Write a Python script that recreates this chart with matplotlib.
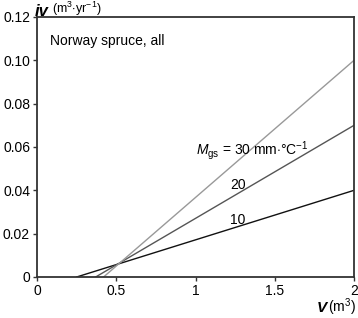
import numpy as np
import matplotlib.pyplot as plt

plt.rcParams['font.family'] = ['Liberation Sans', 'DejaVu Sans']
plt.rcParams['mathtext.fontset'] = 'custom'
plt.rcParams['mathtext.rm'] = 'Liberation Sans'
plt.rcParams['mathtext.it'] = 'Liberation Sans:italic'
plt.rcParams['mathtext.bf'] = 'Liberation Sans:bold'

# --- data ---
mgs_levels = [10, 20, 30]
v_start = [0.25, 0.37, 0.42]       # V where iv reaches 0
v_end = [2.0, 2.0, 2.0]
iv_end = [0.04, 0.07, 0.10]
line_colors = ['#111111', '#555555', '#999999']
line_labels = ['10', '20', r'$M_{\rm gs}$ = 30 mm$\cdot$°C$^{-1}$']
label_pos = [(1.218, 0.0245), (1.218, 0.0406), (1.0, 0.0563)]

xticks = [0, 0.5, 1, 1.5, 2]
xticklabels = ['0', '0.5', '1', '1.5', '2']
yticks = [0, 0.02, 0.04, 0.06, 0.08, 0.10, 0.12]
yticklabels = ['0', '0.02', '0.04', '0.06', '0.08', '0.10', '0.12']

W, H = 358, 318
fig = plt.figure(figsize=(W / 100, H / 100), dpi=100)
ax = fig.add_axes([37 / W, 41 / H, 317 / W, 260 / H])

for x0, x1, y1, c in zip(v_start, v_end, iv_end, line_colors):
    ax.plot([x0, x1], [0, y1], color=c, lw=1.0)

for txt, (x, y) in zip(line_labels, label_pos):
    ax.text(x, y, txt, fontsize=10, ha='left', va='baseline')

ax.text(0.082, 0.107, 'Norway spruce, all', fontsize=10, va='baseline')

ax.set_xlim(0, 2)
ax.set_ylim(0, 0.12)
ax.set_xticks(xticks)
ax.set_xticklabels(xticklabels, fontsize=10)
ax.set_yticks(yticks)
ax.set_yticklabels(yticklabels, fontsize=10)
ax.tick_params(direction='out', length=3, width=1, color='#333333', pad=2)
for s in ax.spines.values():
    s.set_color('#333333')
    s.set_linewidth(1.3)

# axis titles sit at the corners, placed in pixels
def px(x, y):
    return x / W, 1 - y / H

fig.text(*px(35, 16.5), 'iv', fontsize=12, fontweight='bold', style='italic',
         ha='left', va='baseline')
fig.text(*px(52, 13), '(m$^{3}$$\\cdot$yr$^{-1}$)', fontsize=9,
         ha='left', va='baseline')
fig.text(*px(317, 312), 'V', fontsize=11, fontweight='bold', style='italic',
         ha='left', va='baseline')
fig.text(*px(328, 312), '(m$^{3}$)', fontsize=10, ha='left', va='baseline')

fig.savefig('out.png', dpi=100)
